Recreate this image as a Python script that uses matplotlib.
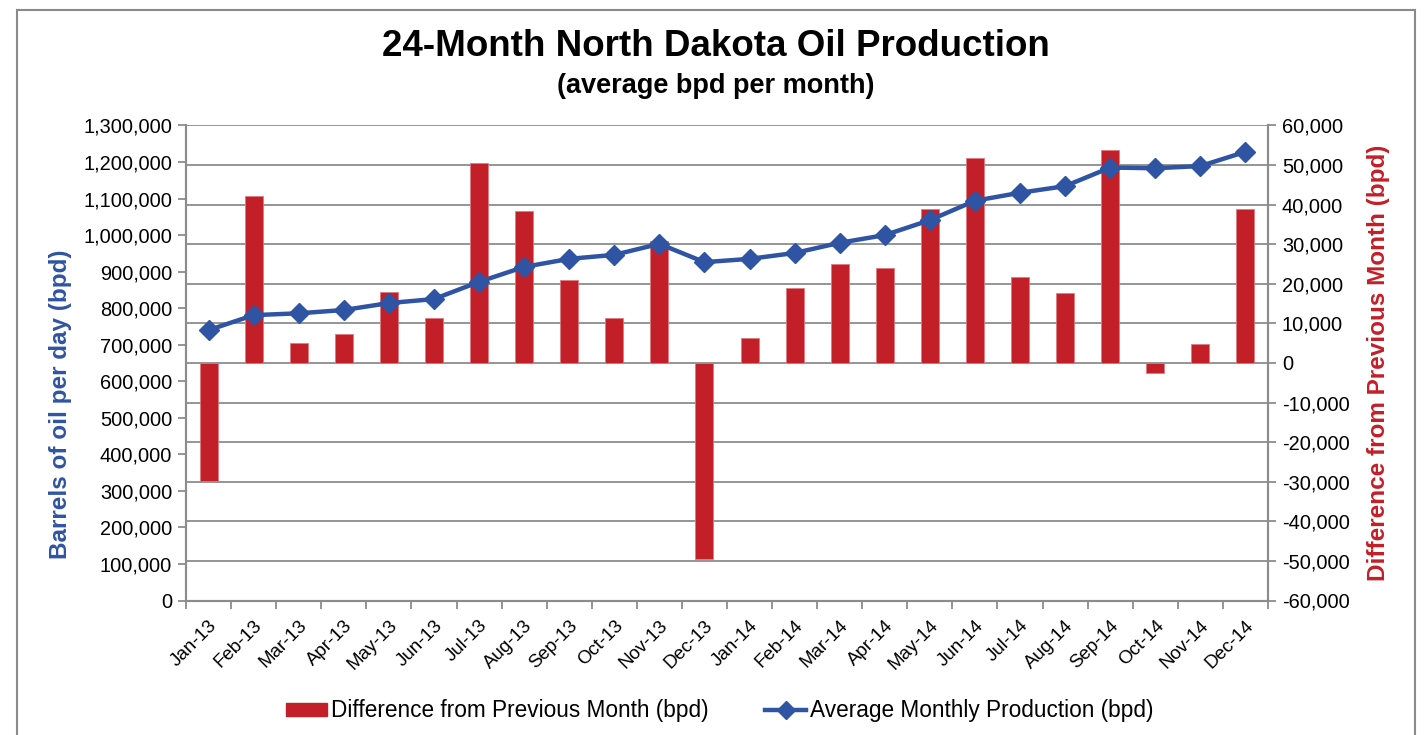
import matplotlib
matplotlib.use("Agg")
import matplotlib.pyplot as plt
from matplotlib.patches import Rectangle
from matplotlib.lines import Line2D
from matplotlib.ticker import FuncFormatter
import numpy as np

plt.rcParams['font.family'] = ['Liberation Sans', 'DejaVu Sans']

months = ["Jan-13", "Feb-13", "Mar-13", "Apr-13", "May-13", "Jun-13", "Jul-13", "Aug-13",
          "Sep-13", "Oct-13", "Nov-13", "Dec-13", "Jan-14", "Feb-14", "Mar-14", "Apr-14",
          "May-14", "Jun-14", "Jul-14", "Aug-14", "Sep-14", "Oct-14", "Nov-14", "Dec-14"]

production = [740000, 781000, 786000, 795000, 814000, 825000, 872000, 913000,
              935000, 946000, 976000, 926000, 935000, 951000, 979000, 1000000,
              1041000, 1094000, 1116000, 1134000, 1185000, 1183000, 1189000, 1228000]

difference = [-29800, 42100, 5100, 7400, 17900, 11400, 50600, 38500,
              20900, 11400, 30800, -49600, 6400, 18900, 25000, 24000,
              39000, 51800, 21800, 17800, 53800, -2500, 4700, 38900]

left_ticks = list(range(0, 1300001, 100000))
right_ticks = list(range(-60000, 60001, 10000))

title = "24-Month North Dakota Oil Production"
subtitle = "(average bpd per month)"
left_label = "Barrels of oil per day (bpd)"
right_label = "Difference from Previous Month (bpd)"
bar_name = "Difference from Previous Month (bpd)"
line_name = "Average Monthly Production (bpd)"

RED = "#C31F28"
BLUE = "#2F54A3"
GRID = "#8C8C8C"

W, H = 1427, 735
fig = plt.figure(figsize=(W / 100, H / 100), dpi=100)
fig.patch.set_facecolor("white")

# outer frame
fig.add_artist(Rectangle((17 / W, -0.05), (1415 - 17) / W, 1 - 10 / H + 0.05,
                         transform=fig.transFigure, fill=False, edgecolor="#8A8A8A", lw=1.5))

x0, x1 = 186, 1268
yt, yb = 125.5, 600.5
rect = [x0 / W, 1 - yb / H, (x1 - x0) / W, (yb - yt) / H]

ax2 = fig.add_axes(rect)          # bars, right axis
ax = ax2.twinx()                  # line, moved to left

x = np.arange(len(months))

fmt = FuncFormatter(lambda v, p: f"{int(v):,}")

# bars on ax2 (right axis)
ax2.bar(x, difference, width=0.4, color=RED, edgecolor="#E07A80", linewidth=0.6, zorder=2)
ax2.set_ylim(-60000, 60000)
ax2.set_yticks(right_ticks)
ax2.yaxis.tick_right()
ax2.yaxis.set_major_formatter(fmt)
ax2.grid(axis="y", color=GRID, lw=1.3, zorder=0)
ax2.set_axisbelow(True)

# line on ax (left axis)
ax.plot(x, production, color=BLUE, lw=3.2, marker="D", markersize=10.5,
        markerfacecolor=BLUE, markeredgecolor=BLUE, zorder=3)
ax.set_ylim(0, 1300000)
ax.set_yticks(left_ticks)
ax.yaxis.tick_left()
ax.yaxis.set_major_formatter(fmt)

ax.set_zorder(ax2.get_zorder() + 1)
ax.patch.set_visible(False)

ax2.set_xlim(-0.5, len(months) - 0.5)
ax.set_xlim(-0.5, len(months) - 0.5)

# x ticks: marks at boundaries, labels at centers
ax2.set_xticks(np.arange(-0.5, len(months), 1.0))
ax2.set_xticklabels([])
ax2.set_xticks(x, minor=True)
ax2.set_xticklabels(months, minor=True, rotation=45, ha="right", rotation_mode="anchor", fontsize=13.5)
ax2.tick_params(axis="x", which="major", length=5.5, color=GRID, width=1.3, direction="out")
ax2.tick_params(axis="x", which="minor", length=0, pad=12)
ax.tick_params(axis="x", which="both", bottom=False, labelbottom=False)

ax2.tick_params(axis="y", length=5.5, color=GRID, width=1.3, labelsize=14.4, pad=4.5)
ax.tick_params(axis="y", length=5.5, color=GRID, width=1.3, labelsize=14.4, pad=4.5)

for a in (ax, ax2):
    a.spines["top"].set_visible(False)
    for s in ("left", "right", "bottom"):
        a.spines[s].set_color(GRID)
        a.spines[s].set_linewidth(1.5)

# axis titles
fig.text(61 / W, 1 - 404 / H, left_label, rotation=90, ha="center", va="center",
         color=BLUE, fontsize=17.5, fontweight="bold")
fig.text(1378 / W, 1 - 363 / H, right_label, rotation=90, ha="center", va="center",
         color=RED, fontsize=17.5, fontweight="bold")

fig.text(716 / W, 1 - 47 / H, title, ha="center", va="center", fontsize=26.5, fontweight="bold")
fig.text(716 / W, 1 - 86 / H, subtitle, ha="center", va="center", fontsize=19.5, fontweight="bold")

handles = [Rectangle((0, 0), 1, 1, color=RED),
           Line2D([0], [0], color=BLUE, lw=3.2, marker="D", markersize=9)]
fig.legend(handles, [bar_name, line_name], loc="center", bbox_to_anchor=(720 / W, 1 - 711 / H),
           ncol=2, frameon=False, fontsize=16.3, handlelength=1.8, handletextpad=0.18,
           columnspacing=2.5, handleheight=0.5)

fig.savefig("out.png", dpi=100)
